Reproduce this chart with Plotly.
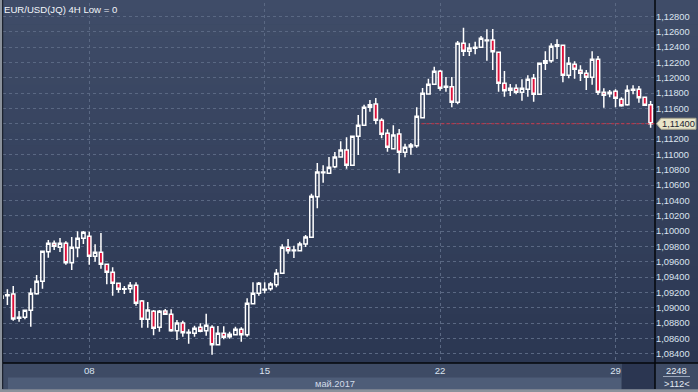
import plotly.graph_objects as go

# ---------------- data ----------------
title_text = "EUR/USD(JQ) 4H Low = 0"
day_labels = ["08", "15", "22", "29"]
day_index = [15, 45, 75, 105]
month_label = "май.2017"
footer_top = "2248"
footer_bottom = ">112<"
price_ticks = [1.084, 1.086, 1.088, 1.090, 1.092, 1.094, 1.096, 1.098, 1.100, 1.102, 1.104, 1.106,
               1.108, 1.110, 1.112, 1.114, 1.116, 1.118, 1.120, 1.122, 1.124, 1.126, 1.128]

opens = [1.09123, 1.09157, 1.09179, 1.08862, 1.08875, 1.08966, 1.09183, 1.09345, 1.09731, 1.09840,
         1.09788, 1.09840, 1.09587, 1.09783, 1.09906, 1.09932, 1.09671, 1.09723, 1.09566, 1.09462,
         1.09318, 1.09240, 1.09248, 1.09292, 1.09088, 1.08849, 1.08953, 1.08744, 1.08957, 1.08914,
         1.08700, 1.08801, 1.08670, 1.08666, 1.08744, 1.08700, 1.08744, 1.08517, 1.08666, 1.08622,
         1.08648, 1.08718, 1.08648, 1.09052, 1.09188, 1.09231, 1.09248, 1.09300, 1.09449, 1.09788,
         1.09744, 1.09744, 1.09831, 1.09919, 1.10448, 1.10761, 1.10753, 1.10840, 1.10966, 1.11057,
         1.10858, 1.11236, 1.11380, 1.11649, 1.11658, 1.11445, 1.11275, 1.11074, 1.11266, 1.11027,
         1.11097, 1.11114, 1.11479, 1.11788, 1.11915, 1.12084, 1.11875, 1.11883, 1.11680, 1.12450,
         1.12345, 1.12384, 1.12397, 1.12483, 1.12493, 1.12332, 1.11928, 1.11836, 1.11862, 1.11810,
         1.11849, 1.11993, 1.11784, 1.12189, 1.12222, 1.12410, 1.12423, 1.12032, 1.12176, 1.12097,
         1.12058, 1.12006, 1.12241, 1.11810, 1.11792, 1.11823, 1.11719, 1.11649, 1.11836, 1.11849,
         1.11745, 1.11649]
highs = [1.09166, 1.09240, 1.09283, 1.08957, 1.08966, 1.09253, 1.09427, 1.09736, 1.09883, 1.09877,
         1.09909, 1.09866, 1.09922, 1.09997, 1.10001, 1.09992, 1.09827, 1.09975, 1.09570, 1.09527,
         1.09322, 1.09283, 1.09335, 1.09331, 1.09101, 1.09074, 1.08970, 1.08970, 1.08983, 1.08979,
         1.08840, 1.08831, 1.08718, 1.08765, 1.08797, 1.08922, 1.08771, 1.08761, 1.08757, 1.08687,
         1.08752, 1.08744, 1.09123, 1.09331, 1.09335, 1.09331, 1.09335, 1.09505, 1.09827, 1.09896,
         1.09809, 1.09861, 1.09949, 1.10487, 1.10888, 1.10858, 1.10966, 1.11031, 1.11171, 1.11223,
         1.11240, 1.11514, 1.11649, 1.11710, 1.11736, 1.11471, 1.11328, 1.11380, 1.11331, 1.11140,
         1.11149, 1.11615, 1.11866, 1.11988, 1.12144, 1.12101, 1.12010, 1.12010, 1.12480, 1.12653,
         1.12450, 1.12470, 1.12545, 1.12632, 1.12636, 1.12340, 1.12088, 1.11919, 1.11915, 1.11980,
         1.12032, 1.12049, 1.12189, 1.12345, 1.12450, 1.12502, 1.12430, 1.12271, 1.12215, 1.12163,
         1.12101, 1.12345, 1.12284, 1.11862, 1.11840, 1.11849, 1.11745, 1.11902, 1.11902, 1.11892,
         1.11750, 1.11697]
lows = [1.09107, 1.09035, 1.08831, 1.08817, 1.08849, 1.08752, 1.09170, 1.09248, 1.09652, 1.09753,
        1.09727, 1.09561, 1.09492, 1.09658, 1.09831, 1.09561, 1.09600, 1.09509, 1.09305, 1.09157,
        1.09196, 1.09179, 1.09192, 1.09026, 1.08739, 1.08739, 1.08640, 1.08687, 1.08910, 1.08687,
        1.08579, 1.08622, 1.08530, 1.08622, 1.08679, 1.08635, 1.08387, 1.08517, 1.08588, 1.08596,
        1.08640, 1.08557, 1.08622, 1.09052, 1.09157, 1.09188, 1.09222, 1.09266, 1.09449, 1.09705,
        1.09649, 1.09740, 1.09792, 1.09919, 1.10297, 1.10631, 1.10744, 1.10819, 1.10957, 1.10813,
        1.10850, 1.10992, 1.11380, 1.11557, 1.11393, 1.11210, 1.11035, 1.11067, 1.10753, 1.10962,
        1.10996, 1.11088, 1.11479, 1.11788, 1.11915, 1.11831, 1.11818, 1.11615, 1.11654, 1.12284,
        1.12284, 1.12306, 1.12397, 1.12222, 1.12101, 1.11818, 1.11753, 1.11762, 1.11784, 1.11701,
        1.11753, 1.11688, 1.11784, 1.12101, 1.12196, 1.12245, 1.11941, 1.11993, 1.11988, 1.11958,
        1.11840, 1.11909, 1.11775, 1.11609, 1.11745, 1.11615, 1.11622, 1.11635, 1.11784, 1.11675,
        1.11632, 1.11348]
closes = [1.09153, 1.09170, 1.08853, 1.08875, 1.08966, 1.09188, 1.09345, 1.09736, 1.09840, 1.09801,
          1.09840, 1.09587, 1.09788, 1.09906, 1.09984, 1.09671, 1.09723, 1.09566, 1.09462, 1.09318,
          1.09240, 1.09248, 1.09292, 1.09058, 1.08849, 1.08970, 1.08731, 1.08953, 1.08914, 1.08700,
          1.08801, 1.08674, 1.08679, 1.08731, 1.08692, 1.08771, 1.08517, 1.08666, 1.08614, 1.08653,
          1.08718, 1.08648, 1.09058, 1.09188, 1.09318, 1.09240, 1.09309, 1.09449, 1.09788, 1.09744,
          1.09753, 1.09831, 1.09922, 1.10453, 1.10770, 1.10770, 1.10832, 1.10966, 1.11057, 1.10858,
          1.11236, 1.11380, 1.11615, 1.11615, 1.11445, 1.11262, 1.11093, 1.11253, 1.11027, 1.11093,
          1.11123, 1.11497, 1.11797, 1.11915, 1.12084, 1.11862, 1.11889, 1.11680, 1.12450, 1.12345,
          1.12388, 1.12397, 1.12515, 1.12493, 1.12340, 1.11928, 1.11831, 1.11862, 1.11810, 1.11862,
          1.11980, 1.11784, 1.12189, 1.12222, 1.12410, 1.12431, 1.12032, 1.12189, 1.12110, 1.12058,
          1.12006, 1.12241, 1.11810, 1.11771, 1.11810, 1.11732, 1.11635, 1.11836, 1.11849, 1.11740,
          1.11641, 1.11400]

# ---------------- styling helpers (pixel -> paper) ----------------
W, H = 698, 392
PL, PR, PT, PB = 3, 655, 3, 363


def px(x):
    return (x - PL) / (PR - PL)


def py(y):
    return (PB - y) / (PB - PT)


def fmt(v):
    return ("%.5f" % v).replace(".", ",")


FONT = "Liberation Sans, Arial, sans-serif"
n = len(opens)
xs = list(range(n))
last = closes[-1]

fig = go.Figure()
fig.add_trace(go.Candlestick(
    x=xs, open=opens, high=highs, low=lows, close=closes,
    increasing=dict(line=dict(color="#ffffff", width=1.5), fillcolor="rgba(0,0,0,0)"),
    decreasing=dict(line=dict(color="#ffffff", width=1.5), fillcolor="#e0103a"),
    whiskerwidth=0, hoverinfo="skip", showlegend=False,
))

shapes = []
# vertical gradient background
top_c = (63, 76, 104)
bot_c = (43, 55, 82)
N = 30
for i in range(N):
    t = i / (N - 1)
    c = tuple(round(top_c[k] + (bot_c[k] - top_c[k]) * t) for k in range(3))
    y0 = i * PB / N
    y1 = (i + 1) * PB / N + 0.6
    shapes.append(dict(type="rect", xref="paper", yref="paper", layer="below",
                       x0=px(0), x1=px(W), y0=py(y0), y1=py(min(y1, PB)),
                       fillcolor="rgb(%d,%d,%d)" % c, line=dict(width=0)))
# time-axis bands
shapes += [
    dict(type="rect", xref="paper", yref="paper", layer="below", x0=px(0), x1=px(W),
         y0=py(PB), y1=py(378), fillcolor="#3e4b65", line=dict(width=0)),
    dict(type="rect", xref="paper", yref="paper", layer="below", x0=px(0), x1=px(W),
         y0=py(378), y1=py(389.5), fillcolor="#3e4b65", line=dict(width=0)),
    dict(type="rect", xref="paper", yref="paper", layer="below", x0=px(8), x1=px(621),
         y0=py(377.5), y1=py(389.5), fillcolor="#4e5d78", line=dict(width=0)),
    dict(type="rect", xref="paper", yref="paper", layer="below", x0=px(622), x1=px(PR),
         y0=py(PB), y1=py(389.5), fillcolor="#2b3651", line=dict(width=0)),
    dict(type="rect", xref="paper", yref="paper", layer="below", x0=px(0), x1=px(W),
         y0=py(389.3), y1=py(H), fillcolor="#8a919b", line=dict(width=0)),
    dict(type="rect", xref="paper", yref="paper", layer="below", x0=px(0), x1=px(2.3),
         y0=py(0), y1=py(H), fillcolor="#8a919b", line=dict(width=0)),
]
# black frame lines
shapes += [
    dict(type="line", xref="paper", yref="paper", x0=px(2.7), x1=px(2.7), y0=py(0), y1=py(389),
         line=dict(color="#10151f", width=1)),
    dict(type="line", xref="paper", yref="paper", x0=px(PL), x1=px(W), y0=py(PB), y1=py(PB),
         line=dict(color="#05070b", width=1.5)),
    dict(type="line", xref="paper", yref="paper", x0=px(PR), x1=px(PR), y0=py(0), y1=py(389),
         line=dict(color="#05070b", width=1.5)),
    dict(type="line", xref="paper", yref="paper", x0=px(663), x1=px(690), y0=py(376.5), y1=py(376.5),
         line=dict(color="#9aa6ba", width=1)),
]
# last-price dashed line and price callout
pp = 0.00013046  # price per pixel
shapes.append(dict(type="line", xref="x", yref="y", x0=71.8, x1=n - 0.25, y0=last, y1=last,
                   line=dict(color="#d2303f", width=1, dash="3px,2px")))
path = "M %f,%f L %f,%f L %f,%f L %f,%f L %f,%f Z" % (
    px(656.5), last, px(661), last + 5.5 * pp, px(696), last + 5.5 * pp,
    px(696), last - 5.5 * pp, px(661), last - 5.5 * pp)
shapes.append(dict(type="path", xref="paper", yref="y", path=path,
                   fillcolor="#e8e5c9", line=dict(color="#a8a58e", width=1)))

annotations = [
    dict(xref="paper", yref="paper", x=px(2), y=py(2), xanchor="left", yanchor="top",
         text=title_text, showarrow=False, font=dict(family=FONT, size=9.6, color="#f2f5fa")),
    dict(xref="paper", yref="y", x=px(678.5), y=last, xanchor="center", yanchor="middle",
         text=fmt(last), showarrow=False,
         font=dict(family=FONT, size=9.3, color="#1b2130")),
    dict(xref="paper", yref="paper", x=px(335), y=py(383.5), xanchor="center", yanchor="middle",
         text=month_label, showarrow=False, font=dict(family=FONT, size=9.3, color="#d2dbe8")),
    dict(xref="paper", yref="paper", x=px(676.5), y=py(370.5), xanchor="center", yanchor="middle",
         text=footer_top, showarrow=False, font=dict(family=FONT, size=9.3, color="#e4eaf3")),
    dict(xref="paper", yref="paper", x=px(677), y=py(384), xanchor="center", yanchor="middle",
         text=footer_bottom, showarrow=False, font=dict(family=FONT, size=9.3, color="#e4eaf3")),
]

# tick labels: the one under the price callout is hidden (callout replaces it)
tick_text = ["" if abs(v - last) < 1e-9 else fmt(v) for v in price_ticks]

y_lo = 1.084 - (PB - 353.7) * pp
y_hi = 1.084 + (353.7 - PT) * pp

fig.update_layout(
    width=W, height=H,
    margin=dict(l=PL, r=W - PR, t=PT, b=H - PB, pad=0),
    paper_bgcolor="#34405a", plot_bgcolor="rgba(0,0,0,0)",
    separators=", ",
    boxgap=0.42, boxgroupgap=0,
    showlegend=False,
    shapes=shapes, annotations=annotations,
    xaxis=dict(range=[0.25, n - 0.25], tickmode="array", tickvals=day_index, ticktext=day_labels,
               showgrid=True, gridcolor="#5a6883", griddash="3px,3px", gridwidth=1,
               zeroline=False, showline=False, ticks="", rangeslider=dict(visible=False),
               tickfont=dict(family=FONT, size=9.6, color="#dbe3ef"), fixedrange=True),
    yaxis=dict(side="right", range=[y_lo, y_hi], tickmode="array", tickvals=price_ticks,
               ticktext=tick_text,
               showgrid=True, gridcolor="#5a6883", griddash="3px,3px", gridwidth=1,
               zeroline=False, showline=False, ticks="",
               tickfont=dict(family=FONT, size=9.3, color="#dbe3ef"), fixedrange=True),
)

fig.write_html("out.html", config={"displayModeBar": False},
               post_script="document.body.style.margin='0';document.body.style.overflow='hidden';")
